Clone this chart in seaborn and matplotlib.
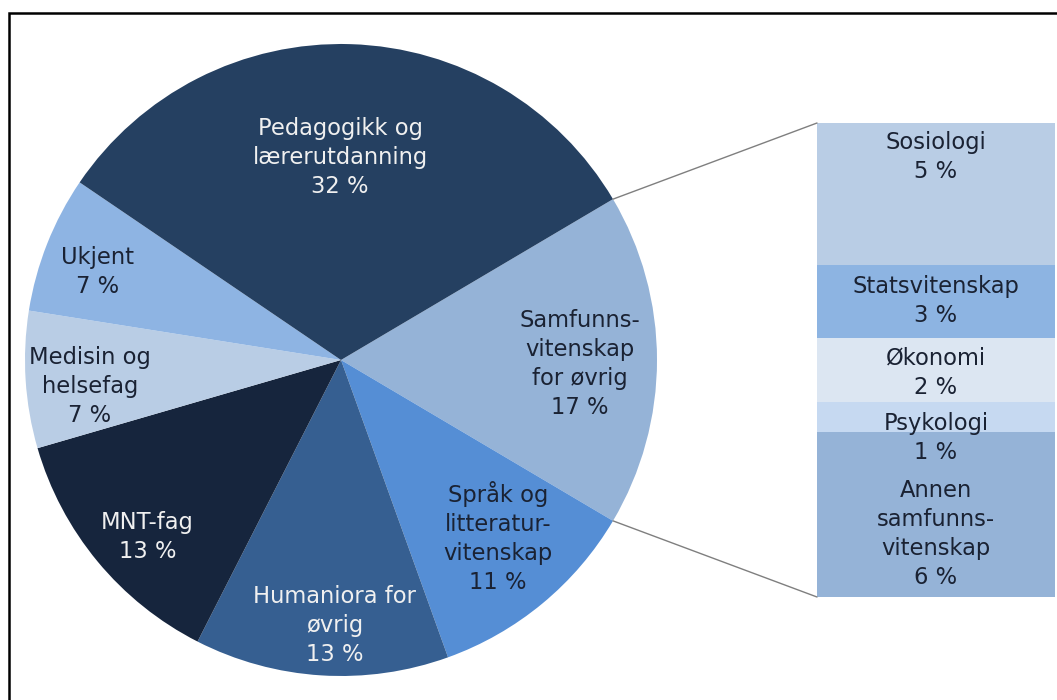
import matplotlib
matplotlib.use("Agg")
import matplotlib.pyplot as plt
import seaborn as sns
from matplotlib.patches import ConnectionPatch, Rectangle
import numpy as np

sns.set_theme(style="white")
plt.rcParams['font.family'] = ['DejaVu Sans']

# ---- data ----
pie_labels = ["Samfunns-\nvitenskap\nfor øvrig", "Språk og\nlitteratur-\nvitenskap",
              "Humaniora for\nøvrig", "MNT-fag", "Medisin og\nhelsefag", "Ukjent",
              "Pedagogikk og\nlærerutdanning"]
pie_values = [17, 11, 13, 13, 7, 7, 32]

bar_labels = ["Sosiologi", "Statsvitenskap", "Økonomi", "Psykologi", "Annen\nsamfunns-\nvitenskap"]
bar_values = [5.1, 2.6, 2.3, 1.1, 5.9]
bar_pct = [5, 3, 2, 1, 6]

# ---- style ----
pie_colors = ["#95B3D7", "#558ED5", "#365F91", "#16253D", "#B9CDE5", "#8EB4E3", "#254061"]
pie_text_colors = ["#1A2233", "#1A2233", "#F0F0F0", "#F0F0F0", "#1A2233", "#1A2233", "#F0F0F0"]
pie_label_r = [0.756, 0.75, 0.84, 0.83, 0.80, 0.82, 0.64]
pie_label_dang = [-1.0, 1.8, 2.3, 2.8, 2.5, 1.8, 2.1]
bar_colors = ["#B9CDE5", "#8DB4E2", "#DCE6F2", "#C6D9F1", "#95B3D7"]
bar_label_offset = [None, 0.0, 0.1, 0.74, 0.7]
FS = 16.3
LS = 1.33

W, H = 1057, 700
fig = plt.figure(figsize=(W / 100, H / 100), dpi=100)

# pie axes
cx, cy, r = 341, 360, 316
ax = fig.add_axes([(cx - r) / W, (H - cy - r) / H, 2 * r / W, 2 * r / H])
start = 360 * pie_values[0] / 100 / 2
wedges, _ = ax.pie(pie_values, colors=pie_colors, startangle=start, counterclock=False,
                   radius=1, wedgeprops=dict(linewidth=0))
ax.set_xlim(-1, 1)
ax.set_ylim(-1, 1)
ax.set_aspect("equal")
ax.axis("off")

for w, lab, val, tc, lr, da in zip(wedges, pie_labels, pie_values, pie_text_colors,
                                   pie_label_r, pie_label_dang):
    ang = np.deg2rad((w.theta1 + w.theta2) / 2 + da)
    ax.text(lr * np.cos(ang), lr * np.sin(ang), f"{lab}\n{val} %", ha="center", va="center",
            color=tc, fontsize=FS, linespacing=LS)

# bar axes
bx0, bx1, by0, by1 = 817, 1055, 123, 597
bax = fig.add_axes([bx0 / W, (H - by1) / H, (bx1 - bx0) / W, (by1 - by0) / H])
total = sum(bar_values)
bottom = 0
for lab, v, p, c, off in zip(bar_labels, bar_values, bar_pct, bar_colors, bar_label_offset):
    bax.bar(0, v, bottom=bottom, width=1, color=c, linewidth=0)
    if off is None:
        bax.text(0, bottom + 0.3, f"{lab}\n{p} %", ha="center", va="top",
                 color="#1A2233", fontsize=FS, linespacing=LS)
    else:
        bax.text(0, bottom + v / 2 + off, f"{lab}\n{p} %", ha="center", va="center",
                 color="#1A2233", fontsize=FS, linespacing=LS)
    bottom += v
bax.set_xlim(-0.5, 0.5)
bax.set_ylim(total, 0)
bax.axis("off")

# connectors
sw = wedges[0]
for theta, yb in [(sw.theta1, total), (sw.theta2, 0)]:
    t = np.deg2rad(theta)
    con = ConnectionPatch(xyA=(np.cos(t), np.sin(t)), coordsA=ax.transData,
                          xyB=(-0.5, yb), coordsB=bax.transData,
                          color="#7F7F7F", lw=1)
    fig.add_artist(con)

# frame
fig.add_artist(Rectangle((9 / W, -0.05), 1.1, 1.05 - 13 / H, transform=fig.transFigure,
                         fill=False, edgecolor="black", lw=1.8))

fig.savefig("out.png", dpi=100)
